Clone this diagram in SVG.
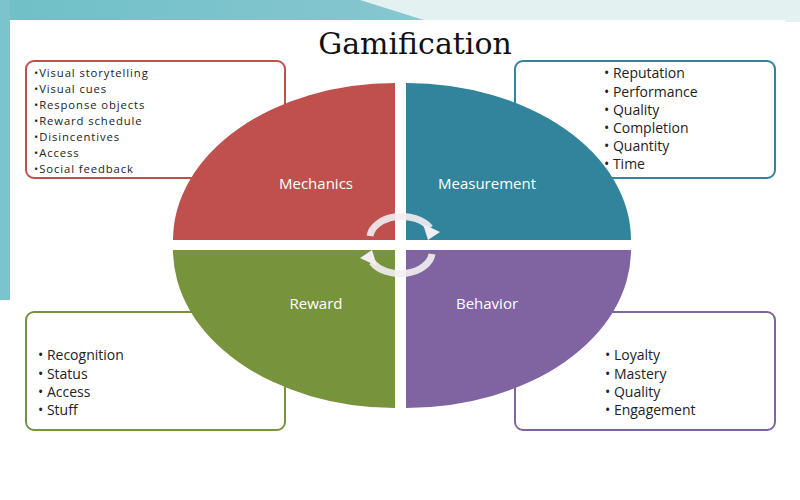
<svg xmlns="http://www.w3.org/2000/svg" width="800" height="500" viewBox="0 0 800 500">
<style>
.t{font-family:"Open Sans","DejaVu Sans",sans-serif;font-size:14px;fill:#222}
.s{font-family:"Open Sans","DejaVu Sans",sans-serif;font-size:11.3px;letter-spacing:0.9px;fill:#222}
.q{font-family:"Open Sans","DejaVu Sans",sans-serif;font-size:15px;fill:#fff;text-anchor:middle}
.box{fill:#fff;stroke-width:2}
.arc{fill:none;stroke:#f2eef2;stroke-width:7;opacity:0.9}
</style>
<defs>
<linearGradient id="bg" x1="0" y1="0" x2="1" y2="0"><stop offset="0" stop-color="#6fc0c8"/><stop offset="0.5" stop-color="#86c6d0"/><stop offset="1" stop-color="#e3f1f1"/></linearGradient>
</defs>
<rect width="800" height="500" fill="#fff"/>
<rect width="800" height="22" fill="url(#bg)"/>
<rect x="0" y="0" width="10" height="300" fill="#7cc4cb"/>
<polygon points="360,0 800,0 800,22 430,22" fill="#e4f1f1"/>
<rect x="10" y="20" width="775" height="420" fill="#fff"/>
<text x="415" y="54" text-anchor="middle" style="font-family:'DejaVu Serif','Liberation Serif',serif;font-size:30px;fill:#111">Gamification</text>
<g id="box-mechanics"><rect class="box" x="26" y="61" width="259" height="117" rx="8" stroke="#c0504d"/>
<text class="s" x="34" y="77">•Visual storytelling</text><text class="s" x="34" y="93">•Visual cues</text><text class="s" x="34" y="109">•Response objects</text><text class="s" x="34" y="125">•Reward schedule</text><text class="s" x="34" y="141">•Disincentives</text><text class="s" x="34" y="157">•Access</text><text class="s" x="34" y="173">•Social feedback</text></g>
<g id="box-measurement"><rect class="box" x="515" y="61" width="260" height="117" rx="8" stroke="#31849b"/>
<text class="t" x="604" y="78">•  Reputation</text><text class="t" x="604" y="97">•  Performance</text><text class="t" x="604" y="115">•  Quality</text><text class="t" x="604" y="133">•  Completion</text><text class="t" x="604" y="151">•  Quantity</text><text class="t" x="604" y="169">•  Time</text></g>
<g id="box-reward"><rect class="box" x="26" y="312" width="259" height="118" rx="8" stroke="#77933c"/>
<text class="t" x="38" y="360">•  Recognition</text><text class="t" x="38" y="379">•  Status</text><text class="t" x="38" y="397">•  Access</text><text class="t" x="38" y="415">•  Stuff</text></g>
<g id="box-behavior"><rect class="box" x="515" y="312" width="260" height="118" rx="8" stroke="#8064a2"/>
<text class="t" x="605" y="360">•  Loyalty</text><text class="t" x="605" y="379">•  Mastery</text><text class="t" x="605" y="397">•  Quality</text><text class="t" x="605" y="415">•  Engagement</text></g>
<g id="mechanics"><path d="M395,240 L395,83 A222,157 0 0 0 173,240 Z" fill="#c0504d"/><text class="q" x="316" y="189">Mechanics</text></g>
<g id="measurement"><path d="M406,240 L406,83 A225,157 0 0 1 631,240 Z" fill="#31849b"/><text class="q" x="487" y="189">Measurement</text></g>
<g id="reward"><path d="M395,250 L395,408 A222,158 0 0 1 173,250 Z" fill="#77933c"/><text class="q" x="316" y="309">Reward</text></g>
<g id="behavior"><path d="M406,250 L406,408 A225,158 0 0 0 631,250 Z" fill="#8064a2"/><text class="q" x="487" y="309">Behavior</text></g>
<g id="connectors">
<path class="arc" d="M370,236 A32,22 0 0 1 430,228"/>
<polygon points="423,224 440,232 428,240" fill="#f2eef2"/>
<path class="arc" d="M432,254 A32,22 0 0 1 372,262"/>
<polygon points="377,266 360,258 372,250" fill="#f2eef2"/>
</g>
</svg>
